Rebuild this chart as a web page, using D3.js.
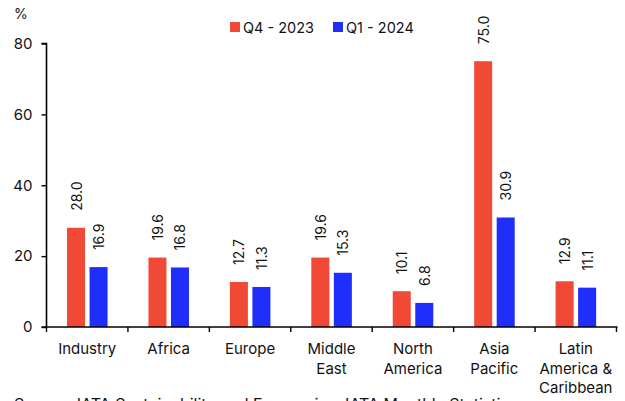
<!DOCTYPE html>
<html>
<head>
<meta charset="utf-8">
<script src="https://cdn.jsdelivr.net/npm/d3@7"></script>
<style>
  html, body { margin: 0; padding: 0; background: #fff; }
  svg { display: block; font-family: Inter, "Noto Sans", sans-serif; }
</style>
</head>
<body>
<svg id="chart" width="625" height="401"></svg>
<script>
// Regions (multi-line labels split by "|")
const categories = ["Industry", "Africa", "Europe", "Middle|East", "North|America", "Asia|Pacific", "Latin|America &|Caribbean"];
const seriesNames = ["Q4 - 2023", "Q1 - 2024"];
const q4_2023 = [28.0, 19.6, 12.7, 19.6, 10.1, 75.0, 12.9];
const q1_2024 = [16.9, 16.8, 11.3, 15.3, 6.8, 30.9, 11.1];
const yTicks = [0, 20, 40, 60, 80];
const colors = ["#F04A36", "#1F2EFB"];

const svg = d3.select("#chart");
const plotLeft = 46.5, plotRight = 616.5, plotTop = 43.5, plotBottom = 327;

const x0 = d3.scaleBand().domain(categories).range([plotLeft, plotRight]).paddingInner(0).paddingOuter(0);
const bw = x0.bandwidth();
const x1 = d3.scaleBand().domain(seriesNames).range([bw * 0.252, bw * 0.75]).paddingInner(0.2).paddingOuter(0);
const y = d3.scaleLinear().domain([0, 80]).range([plotBottom, plotTop]);

const data = categories.map((c, i) => ({ cat: c, vals: [q4_2023[i], q1_2024[i]] }));

// Bars
const groups = svg.append("g").selectAll("g").data(data).join("g")
  .attr("transform", d => `translate(${x0(d.cat)},0)`);

groups.selectAll("rect").data(d => d.vals.map((v, j) => ({ v, s: seriesNames[j], j })))
  .join("rect")
  .attr("x", d => x1(d.s))
  .attr("width", x1.bandwidth())
  .attr("y", d => y(d.v))
  .attr("height", d => y(0) - y(d.v))
  .attr("fill", d => colors[d.j]);

// Value labels, rotated
groups.selectAll("text.val").data(d => d.vals.map((v, j) => ({ v, s: seriesNames[j], j })))
  .join("text")
  .attr("class", "val")
  .attr("transform", d => `translate(${x1(d.s) + x1.bandwidth() / 2},${y(d.v) - 17}) rotate(-90)`)
  .attr("text-anchor", "start")
  .attr("dominant-baseline", "central")
  .attr("font-size", 14)
  .attr("fill", "#111")
  .text(d => d.v.toFixed(1));

// Y axis
const yAxis = svg.append("g")
  .attr("transform", `translate(${plotLeft},0)`)
  .call(d3.axisLeft(y).tickValues(yTicks).tickSize(5).tickPadding(9));
yAxis.select(".domain").attr("stroke", "#000").attr("stroke-width", 1.6).attr("d", `M-5,${plotTop}H0V${plotBottom}`);
yAxis.selectAll(".tick line").attr("stroke", "#000").attr("stroke-width", 1.4);
yAxis.selectAll(".tick text").attr("font-size", 15).attr("fill", "#111").attr("font-family", "Inter, sans-serif");

// X axis with ticks on band boundaries
const xAxis = svg.append("g");
xAxis.append("line")
  .attr("x1", plotLeft - 5).attr("x2", plotRight + 1)
  .attr("y1", plotBottom).attr("y2", plotBottom)
  .attr("stroke", "#000").attr("stroke-width", 1.6);
const boundaries = categories.map(c => x0(c)).concat([x0(categories[categories.length - 1]) + bw]);
xAxis.selectAll("line.tk").data(boundaries).join("line")
  .attr("class", "tk")
  .attr("x1", d => d).attr("x2", d => d)
  .attr("y1", plotBottom).attr("y2", plotBottom + 5)
  .attr("stroke", "#000").attr("stroke-width", 1.4);

// Category labels
const catText = svg.append("g").selectAll("text").data(categories).join("text")
  .attr("x", d => x0(d) + bw / 2)
  .attr("y", 354)
  .attr("text-anchor", "middle")
  .attr("font-size", 15)
  .attr("fill", "#111");
catText.each(function(d) {
  const lines = d.split("|");
  d3.select(this).selectAll("tspan").data(lines).join("tspan")
    .attr("x", x0(d) + bw / 2)
    .attr("dy", (l, i) => i === 0 ? 0 : 19.5)
    .text(l => l);
});

// Unit label
svg.append("text").attr("x", 14).attr("y", 19).attr("font-size", 14).attr("fill", "#111").text("%");

// Legend
const legend = svg.append("g");
const legendX = [230, 333];
seriesNames.forEach((s, i) => {
  legend.append("rect").attr("x", legendX[i]).attr("y", 22).attr("width", 10).attr("height", 10).attr("fill", colors[i]);
  legend.append("text").attr("x", legendX[i] + 13).attr("y", 32.5).attr("font-size", 14.5).attr("fill", "#111").text(s);
});

// Source note
svg.append("text").attr("x", 14).attr("y", 410).attr("font-size", 16).attr("fill", "#111")
  .text("Source: IATA Sustainability and Economics, IATA Monthly Statistics");
</script>
</body>
</html>
